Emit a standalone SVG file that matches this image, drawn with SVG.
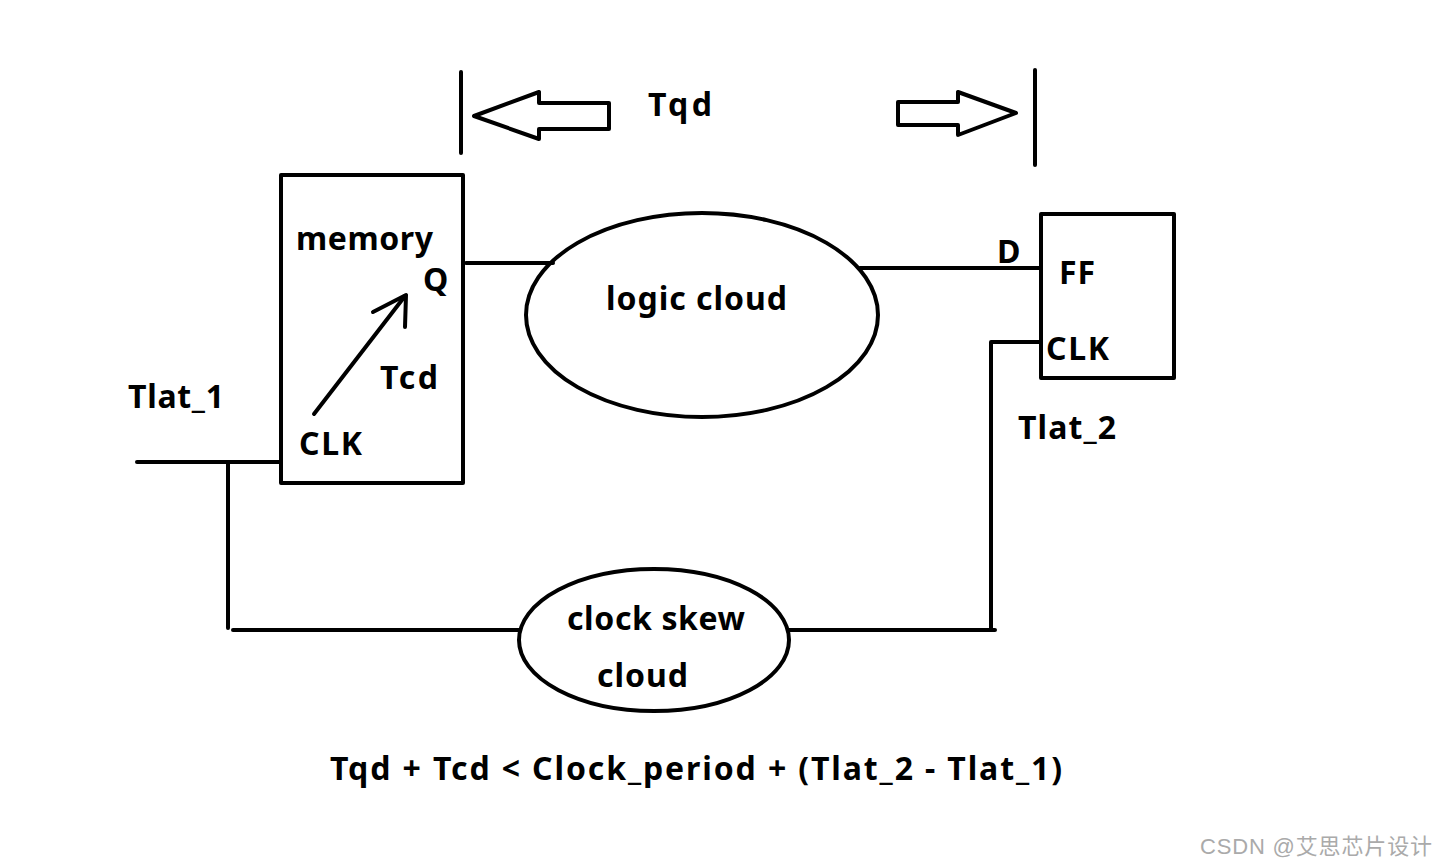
<svg xmlns="http://www.w3.org/2000/svg" width="1447" height="867" viewBox="0 0 1447 867">
<style>
.s{fill:none;stroke:#000;stroke-width:4;stroke-linecap:round;stroke-linejoin:round}
.t{font-family:"Noto Sans","Open Sans",sans-serif;font-weight:bold;font-size:32px;fill:#000}
.w{font-family:"Liberation Sans","Noto Sans CJK SC",sans-serif;font-size:22px;fill:#aaa}
</style>
<rect width="1447" height="867" fill="#fff"/>
<g id="connectors">
<line class="s" x1="461" y1="72" x2="461" y2="153"/>
<line class="s" x1="1035" y1="70" x2="1035" y2="165"/>
<polygon class="s" points="474,116 539,92 539,103 609,103 609,129 539,129 539,139"/>
<polygon class="s" points="1016,113 958,92 958,102 898,102 898,125 958,125 958,135"/>
<line class="s" x1="466" y1="263" x2="553" y2="263"/>
<line class="s" x1="860" y1="268" x2="1041" y2="268"/>
<polyline class="s" points="1041,342 991,342 991,630"/>
<line class="s" x1="233" y1="630" x2="520" y2="630"/>
<line class="s" x1="788" y1="630" x2="995" y2="630"/>
<line class="s" x1="137" y1="462" x2="281" y2="462"/>
<line class="s" x1="228" y1="462" x2="228" y2="628"/>
<line class="s" x1="314" y1="414" x2="405" y2="296"/>
<polyline class="s" points="373,312 406,295 405,327"/>
</g>
<g id="memory">
<rect class="s" x="281" y="175" width="182" height="308"/>
<text class="t" x="296" y="250" textLength="137" lengthAdjust="spacing">memory</text>
<text class="t" x="423" y="291">Q</text>
<text class="t" x="380" y="389" textLength="58" lengthAdjust="spacing">Tcd</text>
<text class="t" x="299" y="455" textLength="63" lengthAdjust="spacing">CLK</text>
</g>
<g id="logic">
<ellipse class="s" cx="702" cy="315" rx="176" ry="102"/>
<text class="t" x="606" y="310" textLength="181" lengthAdjust="spacing">logic cloud</text>
</g>
<g id="ff">
<rect class="s" x="1041" y="214" width="133" height="164"/>
<text class="t" x="1059" y="284" textLength="36" lengthAdjust="spacing">FF</text>
<text class="t" x="1046" y="360" textLength="63" lengthAdjust="spacing">CLK</text>
</g>
<g id="skew">
<ellipse class="s" cx="654" cy="640" rx="135" ry="71"/>
<text class="t" x="567" y="630" textLength="178" lengthAdjust="spacing">clock skew</text>
<text class="t" x="597" y="687" textLength="91" lengthAdjust="spacing">cloud</text>
</g>
<g id="labels">
<text class="t" x="648" y="116" textLength="64" lengthAdjust="spacing">Tqd</text>
<text class="t" x="128" y="408" textLength="96" lengthAdjust="spacing">Tlat_1</text>
<text class="t" x="997" y="263">D</text>
<text class="t" x="1018" y="439" textLength="98" lengthAdjust="spacing">Tlat_2</text>
<text class="t" x="330" y="780" textLength="732" lengthAdjust="spacing">Tqd + Tcd &lt; Clock_period + (Tlat_2 - Tlat_1)</text>
<text class="w" x="1200" y="854" textLength="232" lengthAdjust="spacing">CSDN @艾思芯片设计</text>
</g>
</svg>
